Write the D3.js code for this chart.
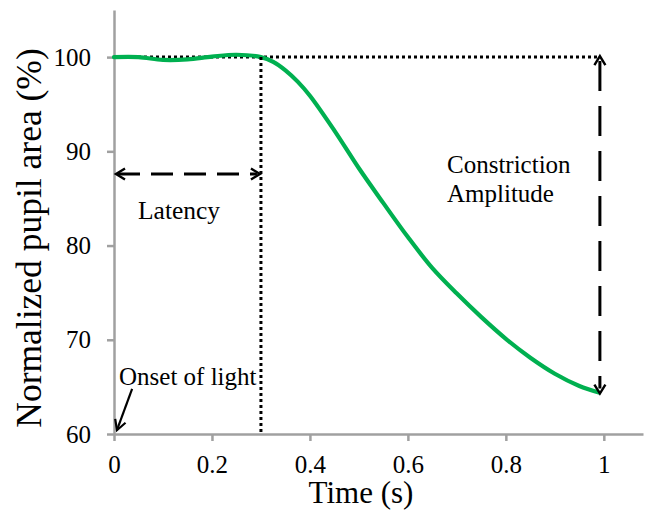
<!DOCTYPE html>
<html>
<head>
<meta charset="utf-8">
<script src="https://cdn.jsdelivr.net/npm/d3@7"></script>
<style>
  html, body { margin: 0; padding: 0; background: #fff; }
  svg { display: block; }
  text { font-family: "Liberation Serif", "Times New Roman", serif; fill: #000; }
</style>
</head>
<body>
<svg id="chart" width="645" height="530"></svg>
<script>
// ---- data ----
const timeS = [0, 0.05, 0.1, 0.15, 0.2, 0.25, 0.3, 0.325, 0.35, 0.375, 0.4, 0.45, 0.5, 0.55, 0.6, 0.65, 0.7, 0.75, 0.8, 0.85, 0.9, 0.95, 0.99];
const pupilArea = [100, 100, 99.7, 99.75, 100.05, 100.25, 100, 99.5, 98.6, 97.4, 95.9, 92.2, 88.2, 84.5, 80.9, 77.6, 74.9, 72.4, 70.1, 68.1, 66.4, 65.1, 64.4];
const xTicks = [0, 0.2, 0.4, 0.6, 0.8, 1];
const xTickLabels = ["0", "0.2", "0.4", "0.6", "0.8", "1"];
const yTicks = [60, 70, 80, 90, 100];
const yTickLabels = ["60", "70", "80", "90", "100"];
const latency = 0.3;
const latencyArrowY = 87.6;
const amplitudeX = 0.992;
const baseline = 100;
const minimum = 64.4;
const onsetArrow = [[0.037, 64.8], [0.006, 60.4]];

// ---- layout ----
const svg = d3.select("#chart");
const x = d3.scaleLinear().domain([0, 1.08]).range([114, 643]);
const y = d3.scaleLinear().domain([60, 105]).range([434, 10]);

const axisColor = "#a0a0a0";

// axes
const xAxis = svg.append("g").attr("transform", `translate(0,${y(60)})`)
  .call(d3.axisBottom(x).tickValues(xTicks).tickFormat((d, i) => xTickLabels[i]).tickSize(7).tickSizeOuter(0).tickPadding(14));
const yAxis = svg.append("g").attr("transform", `translate(${x(0)},0)`)
  .call(d3.axisLeft(y).tickValues(yTicks).tickFormat((d, i) => yTickLabels[i]).tickSize(7).tickSizeOuter(0).tickPadding(16));
[xAxis, yAxis].forEach(g => {
  g.attr("font-family", null);
  g.select(".domain").attr("stroke", axisColor).attr("stroke-width", 2.5);
  g.selectAll(".tick line").attr("stroke", axisColor).attr("stroke-width", 2.5);
  g.selectAll(".tick text").attr("font-size", 25).attr("fill", "#000");
});
xAxis.selectAll(".tick text").attr("dy", "0.71em");

// dotted reference lines
const dotted = { stroke: "#000", "stroke-width": 3, "stroke-dasharray": "3,3", fill: "none" };
function styled(sel, st) { Object.entries(st).forEach(([k, v]) => sel.attr(k, v)); return sel; }
styled(svg.append("line")
  .attr("x1", x(0)).attr("x2", x(amplitudeX)).attr("y1", y(baseline)).attr("y2", y(baseline)), dotted);

// curve
const line = d3.line().x((d, i) => x(timeS[i])).y(d => y(d)).curve(d3.curveCatmullRom.alpha(0.5));
svg.append("path").datum(pupilArea)
  .attr("d", line).attr("fill", "none").attr("stroke", "#00b050").attr("stroke-width", 4.2)
  .attr("stroke-linecap", "round");

styled(svg.append("line")
  .attr("x1", x(latency)).attr("x2", x(latency)).attr("y1", y(baseline)).attr("y2", y(60)), dotted);

// arrow heads (open chevrons)
function chevron(tipX, tipY, fromX, fromY, len, half, w) {
  const ang = Math.atan2(tipY - fromY, tipX - fromX);
  const bx = tipX - len * Math.cos(ang), by = tipY - len * Math.sin(ang);
  const px = -Math.sin(ang) * half, py = Math.cos(ang) * half;
  svg.append("path")
    .attr("d", `M${bx + px},${by + py}L${tipX},${tipY}L${bx - px},${by - py}`)
    .attr("fill", "none").attr("stroke", "#000").attr("stroke-width", w)
    .attr("stroke-linejoin", "miter").attr("stroke-linecap", "butt");
}

// latency double arrow
svg.append("line")
  .attr("x1", x(0) + 4).attr("x2", x(latency) - 4)
  .attr("y1", y(latencyArrowY)).attr("y2", y(latencyArrowY))
  .attr("stroke", "#000").attr("stroke-width", 3).attr("stroke-dasharray", "22,11");
chevron(x(0) + 2, y(latencyArrowY), x(latency), y(latencyArrowY), 9, 5.5, 2.4);
chevron(x(latency) - 1, y(latencyArrowY), x(0), y(latencyArrowY), 9, 5.5, 2.4);

// amplitude double arrow
svg.append("line")
  .attr("x1", x(amplitudeX)).attr("x2", x(amplitudeX))
  .attr("y1", y(baseline) + 4).attr("y2", y(minimum) - 4)
  .attr("stroke", "#000").attr("stroke-width", 3).attr("stroke-dasharray", "30,15");
chevron(x(amplitudeX), y(baseline) - 1, x(amplitudeX), y(minimum), 9, 5.5, 2.4);
chevron(x(amplitudeX), y(minimum) + 1, x(amplitudeX), y(baseline), 9, 5.5, 2.4);

// onset arrow
svg.append("line")
  .attr("x1", x(onsetArrow[0][0])).attr("y1", y(onsetArrow[0][1]))
  .attr("x2", x(onsetArrow[1][0])).attr("y2", y(onsetArrow[1][1]))
  .attr("stroke", "#000").attr("stroke-width", 2.2);
chevron(x(onsetArrow[1][0]), y(onsetArrow[1][1]), x(onsetArrow[0][0]), y(onsetArrow[0][1]), 10, 5.5, 2.2);

// annotation text
svg.append("text").attr("x", 138).attr("y", 219).attr("font-size", 25.5).text("Latency");
svg.append("text").attr("x", 447).attr("y", 173).attr("font-size", 25).text("Constriction");
svg.append("text").attr("x", 447).attr("y", 202).attr("font-size", 25).text("Amplitude");
svg.append("text").attr("x", 119).attr("y", 385).attr("font-size", 25).text("Onset of light");

// axis titles
svg.append("text").attr("x", 361).attr("y", 503).attr("text-anchor", "middle").attr("font-size", 31).text("Time (s)");
svg.append("text").attr("transform", "translate(41,238) rotate(-90)").attr("text-anchor", "middle").attr("font-size", 35.5).text("Normalized pupil area (%)");
</script>
</body>
</html>
